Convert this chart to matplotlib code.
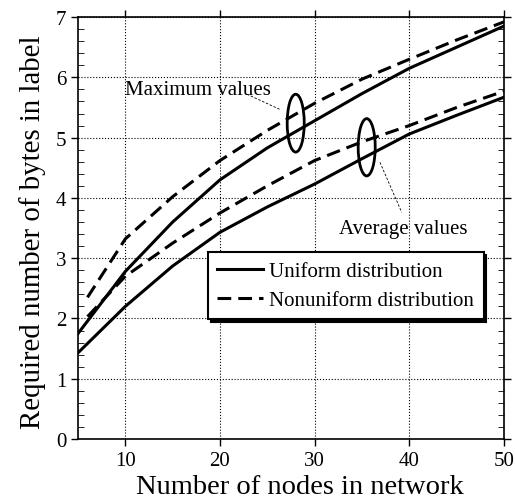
import matplotlib.pyplot as plt
from matplotlib.patches import Ellipse
from matplotlib.ticker import MultipleLocator

plt.rcParams['font.family'] = ['Liberation Serif', 'DejaVu Serif']

# values
nodes = [5, 10, 15, 20, 25, 30, 35, 40, 45, 50]
uni_max = [1.75, 2.78, 3.6, 4.3, 4.83, 5.28, 5.73, 6.15, 6.5, 6.85]
uni_avg = [1.43, 2.2, 2.87, 3.43, 3.85, 4.23, 4.65, 5.06, 5.37, 5.67]
nodes_nu = [6, 10, 15, 20, 25, 30, 35, 40, 45, 50]
non_max = [2.35, 3.32, 4.02, 4.62, 5.12, 5.57, 5.97, 6.3, 6.62, 6.92]
non_avg = [2.03, 2.7, 3.25, 3.75, 4.2, 4.62, 4.93, 5.2, 5.5, 5.77]

fig = plt.figure(figsize=(5.15, 5.02), dpi=100)
ax = fig.add_axes([0.1515, 0.1235, 0.827, 0.8405])

lw = 2.2
ax.plot(nodes, uni_max, color='k', lw=lw, label='Uniform distribution')
ax.plot(nodes_nu, non_max, color='k', lw=lw, dashes=(4.5, 2.3),
        label='Nonuniform distribution')
ax.plot(nodes, uni_avg, color='k', lw=lw)
ax.plot(nodes_nu, non_avg, color='k', lw=lw, dashes=(4.5, 2.3))

ax.set_xlim(5, 50)
ax.set_ylim(0, 7)
ax.set_xticks([10, 20, 30, 40, 50])
ax.set_yticks(range(8))
ax.yaxis.set_minor_locator(MultipleLocator(0.2))
ax.grid(True, which='major', color='k', ls=':', lw=0.8)
ax.tick_params(which='major', labelsize=15, direction='out', length=5,
               top=True, right=True, width=1)
ax.tick_params(which='minor', direction='in', length=4, left=True, right=True)
for s in ax.spines.values():
    s.set_linewidth(1.2)

ax.set_xlabel('Number of nodes in network', fontsize=20.5, va='baseline')
ax.xaxis.set_label_coords(0.52, -0.128)
ax.set_ylabel('Required number of bytes in label', fontsize=20.8, va='center')
ax.yaxis.set_label_coords(-0.108, 0.492)

# ellipses grouping the curves
ax.add_patch(Ellipse((28.0, 5.24), 1.8, 0.96, fill=False, color='k', lw=2))
ax.add_patch(Ellipse((35.5, 4.84), 1.8, 0.95, fill=False, color='k', lw=2))

ax.text(10, 5.8, 'Maximum values', fontsize=15, va='center', ha='left')
ax.plot([22.85, 26.3], [5.72, 5.47], color='k', lw=0.6, ls=(0, (3, 2)))
ax.text(32.6, 3.5, 'Average values', fontsize=15, va='center', ha='left')
ax.plot([36.9, 39.2], [4.59, 3.76], color='k', lw=0.6, ls=(0, (3, 2)))

leg = ax.legend(loc='upper left', bbox_to_anchor=(0.305, 0.443),
                borderaxespad=0, fontsize=15, fancybox=False,
                handlelength=2.2, labelspacing=0.45, handletextpad=0.3,
                borderpad=0.45, framealpha=1,
                shadow={'facecolor': 'k', 'edgecolor': 'k', 'alpha': 1})
leg.get_frame().set_edgecolor('k')
leg.get_frame().set_linewidth(1.5)

fig.savefig('out.png', dpi=100)
